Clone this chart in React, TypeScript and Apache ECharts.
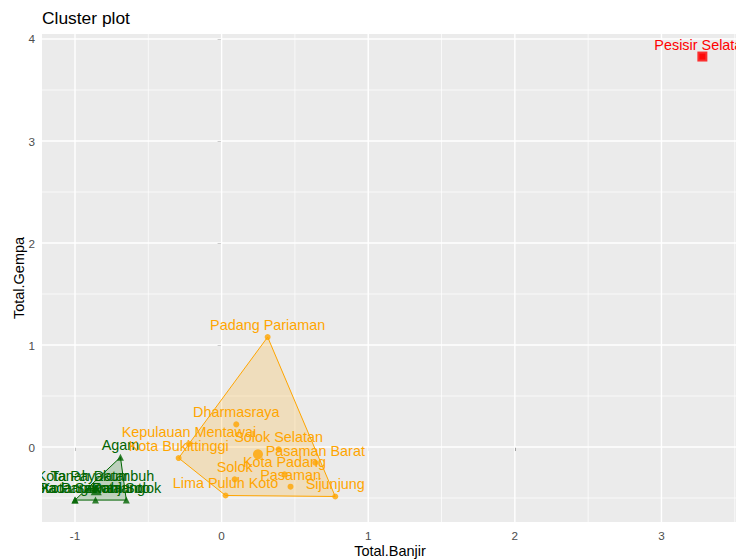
import React, { useEffect, useRef } from 'react';
import * as echarts from 'echarts';

const FONT = "'Liberation Sans', Arial, Helvetica, sans-serif";

// ---- data (standardised values) ----
const cluster1Names = ['Agam', 'Tanah Datar', 'Kota Payakumbuh', 'Kota Padang Panjang', 'Kota Sawahlunto', 'Kota Solok', 'Kota Pariaman'];
const cluster1Banjir = [-0.69, -0.9, -0.86, -1.0, -0.86, -0.65, -1.0];
const cluster1Gempa = [-0.1, -0.4, -0.4, -0.52, -0.52, -0.52, -0.52];

const cluster2Names = ['Padang Pariaman', 'Dharmasraya', 'Kepulauan Mentawai', 'Kota Bukittinggi', 'Solok Selatan', 'Pasaman Barat', 'Kota Padang', 'Solok', 'Pasaman', 'Lima Puluh Koto', 'Sijunjung'];
const cluster2Banjir = [0.314, 0.1, -0.223, -0.293, 0.389, 0.639, 0.429, 0.089, 0.47, 0.027, 0.775];
const cluster2Gempa = [1.078, 0.222, 0.03, -0.108, -0.023, -0.154, -0.268, -0.317, -0.389, -0.475, -0.485];

const cluster3Names = ['Pesisir Selatan'];
const cluster3Banjir = [3.279];
const cluster3Gempa = [3.828];

const centerBanjir = [-0.855, 0.248, 3.279];
const centerGempa = [-0.42, -0.072, 3.828];

const xMajorTicks = [-1, 0, 1, 2, 3];
const yMajorTicks = [0, 1, 2, 3, 4];
const xMinorTicks = [-0.5, 0.5, 1.5, 2.5, 3.5];
const yMinorTicks = [-0.5, 0.5, 1.5, 2.5, 3.5];

const X_MIN = -1.225;
const X_MAX = 3.522;
const Y_MIN = -0.735;
const Y_MAX = 4.049;

const GREEN = '#006400';
const ORANGE = '#FFA500';
const RED = '#FF0000';

type Pt = [number, number];

function convexHull(points: Pt[]): Pt[] {
  const pts = points.slice().sort((a, b) => (a[0] === b[0] ? a[1] - b[1] : a[0] - b[0]));
  if (pts.length < 3) return pts;
  const cross = (o: Pt, a: Pt, b: Pt) => (a[0] - o[0]) * (b[1] - o[1]) - (a[1] - o[1]) * (b[0] - o[0]);
  const lower: Pt[] = [];
  for (const p of pts) {
    while (lower.length >= 2 && cross(lower[lower.length - 2], lower[lower.length - 1], p) <= 0) lower.pop();
    lower.push(p);
  }
  const upper: Pt[] = [];
  for (let i = pts.length - 1; i >= 0; i--) {
    const p = pts[i];
    while (upper.length >= 2 && cross(upper[upper.length - 2], upper[upper.length - 1], p) <= 0) upper.pop();
    upper.push(p);
  }
  upper.pop();
  lower.pop();
  return lower.concat(upper);
}

const clusters = [
  { names: cluster1Names, xs: cluster1Banjir, ys: cluster1Gempa, color: GREEN, fill: 'rgba(0,100,0,0.2)', symbol: 'triangle', size: 7, hull: true },
  { names: cluster2Names, xs: cluster2Banjir, ys: cluster2Gempa, color: ORANGE, fill: 'rgba(255,165,0,0.2)', symbol: 'circle', size: 6, hull: true },
  { names: cluster3Names, xs: cluster3Banjir, ys: cluster3Gempa, color: RED, fill: 'rgba(255,0,0,0.2)', symbol: 'rect', size: 6, hull: false },
];

export default function App() {
  const ref = useRef<HTMLDivElement>(null);
  useEffect(() => {
    if (!ref.current) return;
    const chart = echarts.init(ref.current, undefined, { renderer: 'svg' });

    const series: any[] = [];

    // panel grid lines
    series.push({
      type: 'custom',
      z: 1,
      silent: true,
      clip: true,
      data: [[0, 0]],
      renderItem: (_params: any, api: any) => {
        const children: any[] = [];
        const addV = (v: number, w: number) => {
          const a = api.coord([v, Y_MIN]);
          const b = api.coord([v, Y_MAX]);
          children.push({ type: 'line', shape: { x1: a[0], y1: a[1], x2: b[0], y2: b[1] }, style: { stroke: '#FFFFFF', lineWidth: w } });
        };
        const addH = (v: number, w: number) => {
          const a = api.coord([X_MIN, v]);
          const b = api.coord([X_MAX, v]);
          children.push({ type: 'line', shape: { x1: a[0], y1: a[1], x2: b[0], y2: b[1] }, style: { stroke: '#FFFFFF', lineWidth: w } });
        };
        xMinorTicks.forEach((v) => addV(v, 0.7));
        yMinorTicks.forEach((v) => addH(v, 0.7));
        xMajorTicks.forEach((v) => addV(v, 1.4));
        yMajorTicks.forEach((v) => addH(v, 1.4));
        return { type: 'group', children };
      },
    });

    clusters.forEach((c, ci) => {
      const pts: Pt[] = c.xs.map((x, i) => [x, c.ys[i]] as Pt);
      if (c.hull) {
        const hull = convexHull(pts);
        series.push({
          type: 'custom',
          z: 2,
          silent: true,
          clip: true,
          data: [[0, 0]],
          renderItem: (_params: any, api: any) => ({
            type: 'polygon',
            shape: { points: hull.map((p) => api.coord(p)) },
            style: { fill: c.fill, stroke: c.color, lineWidth: 1 },
          }),
        });
      }
      series.push({
        type: 'scatter',
        z: 3,
        silent: true,
        clip: true,
        symbol: c.symbol,
        symbolSize: c.size,
        itemStyle: { color: c.color },
        data: pts,
      });
      series.push({
        type: 'scatter',
        z: 3,
        silent: true,
        clip: true,
        symbol: c.symbol,
        symbolSize: c.symbol === 'triangle' ? 11 : 10,
        itemStyle: { color: c.color },
        data: [[centerBanjir[ci], centerGempa[ci]]],
      });
      series.push({
        type: 'custom',
        z: 4,
        silent: true,
        clip: true,
        data: pts,
        renderItem: (params: any, api: any) => {
          const p = api.coord([api.value(0), api.value(1)]);
          return {
            type: 'text',
            x: p[0],
            y: p[1] - 12,
            style: {
              text: c.names[params.dataIndex],
              fill: c.color,
              fontSize: 14.4,
              fontFamily: FONT,
              align: 'center',
              verticalAlign: 'middle',
            },
          };
        },
      });
    });

    chart.setOption({
      animation: false,
      backgroundColor: '#FFFFFF',
      title: {
        text: 'Cluster plot',
        left: 42,
        top: 9,
        padding: 0,
        textStyle: { fontFamily: FONT, fontSize: 17.4, fontWeight: 'normal', color: '#000000' },
      },
      grid: {
        left: 42,
        top: 34,
        width: 696,
        height: 488,
        show: true,
        backgroundColor: '#EBEBEB',
        borderWidth: 0,
        containLabel: false,
        outerBoundsMode: 'none',
      },
      xAxis: {
        type: 'value',
        min: X_MIN,
        max: X_MAX,
        name: 'Total.Banjir',
        nameLocation: 'middle',
        nameGap: 21,
        nameMoveOverlap: false,
        nameTextStyle: { fontFamily: FONT, fontSize: 14.5, color: '#000000' },
        axisLine: { show: false },
        splitLine: { show: false },
        axisTick: { show: true, length: 4, customValues: xMajorTicks, lineStyle: { color: '#333333', width: 1 } },
        axisLabel: { customValues: xMajorTicks, margin: 7, fontFamily: FONT, fontSize: 11.7, color: '#4D4D4D' },
      },
      yAxis: {
        type: 'value',
        min: Y_MIN,
        max: Y_MAX,
        name: 'Total.Gempa',
        nameLocation: 'middle',
        nameGap: 16,
        nameRotate: 90,
        nameMoveOverlap: false,
        nameTextStyle: { fontFamily: FONT, fontSize: 14.5, color: '#000000' },
        axisLine: { show: false },
        splitLine: { show: false },
        axisTick: { show: true, length: 4, customValues: yMajorTicks, lineStyle: { color: '#333333', width: 1 } },
        axisLabel: { customValues: yMajorTicks, margin: 7, fontFamily: FONT, fontSize: 11.7, color: '#4D4D4D' },
      },
      series,
    });
    return () => chart.dispose();
  }, []);
  return <div ref={ref} style={{ position: 'fixed', left: 0, top: 0, width: 736, height: 559 }} />;
}
